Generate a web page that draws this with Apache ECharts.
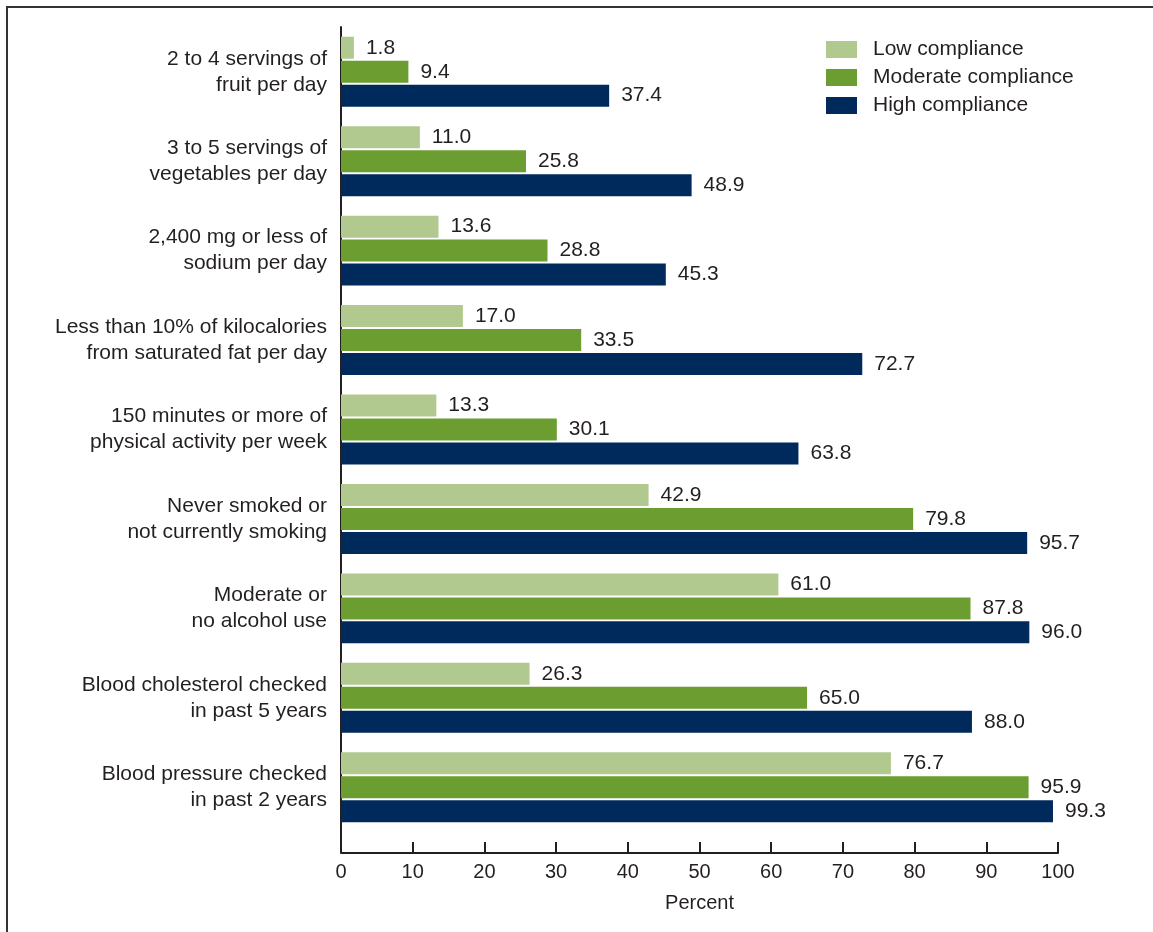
<!DOCTYPE html>
<html>
<head>
<meta charset="utf-8">
<script src="https://cdn.jsdelivr.net/npm/echarts@6/dist/echarts.min.js"></script>
<style>
  html, body { margin: 0; padding: 0; background: #fff; }
  .frame {
    position: absolute; left: 6px; top: 6px; width: 1147px; height: 926px;
    border-left: 2px solid #333; border-top: 2px solid #333;
  }
  #chart { position: absolute; left: 0; top: 0; width: 1153px; height: 932px; }
</style>
</head>
<body>
<div class="frame"></div>
<div id="chart"></div>
<script>
  // chart data
  const categories = [
    '2 to 4 servings of\nfruit per day',
    '3 to 5 servings of\nvegetables per day',
    '2,400 mg or less of\nsodium per day',
    'Less than 10% of kilocalories\nfrom saturated fat per day',
    '150 minutes or more of\nphysical activity per week',
    'Never smoked or\nnot currently smoking',
    'Moderate or\nno alcohol use',
    'Blood cholesterol checked\nin past 5 years',
    'Blood pressure checked\nin past 2 years'
  ];
  const lowCompliance = [1.8, 11.0, 13.6, 17.0, 13.3, 42.9, 61.0, 26.3, 76.7];
  const moderateCompliance = [9.4, 25.8, 28.8, 33.5, 30.1, 79.8, 87.8, 65.0, 95.9];
  const highCompliance = [37.4, 48.9, 45.3, 72.7, 63.8, 95.7, 96.0, 88.0, 99.3];
  const xTicks = [0, 100, 10]; // min, max, interval

  const textColor = '#231f20';
  const font = 'Liberation Sans, Arial, sans-serif';
  const grid = { left: 341, right: 95, top: 27, bottom: 100 };
  const axisOffset = 21;

  function barSeries(name, data, color) {
    return {
      name: name,
      type: 'bar',
      data: data,
      barWidth: 22,
      barGap: '9%',
      itemStyle: { color: color },
      label: {
        show: true,
        position: 'right',
        distance: 12,
        color: textColor,
        fontFamily: font,
        fontSize: 21,
        formatter: p => p.value.toFixed(1)
      }
    };
  }

  const myChart = echarts.init(document.getElementById('chart'));
  const option = {
    animation: false,
    textStyle: { fontFamily: font, color: textColor },
    grid: grid,
    legend: {
      orient: 'vertical',
      left: 821,
      top: 34,
      itemWidth: 31,
      itemHeight: 17,
      itemGap: 7,
      icon: 'rect',
      textStyle: { color: textColor, fontSize: 21, fontFamily: font, padding: [0, 0, 0, 11] },
      data: ['Low compliance', 'Moderate compliance', 'High compliance']
    },
    xAxis: {
      type: 'value',
      min: xTicks[0],
      max: xTicks[1],
      interval: xTicks[2],
      offset: axisOffset,
      name: 'Percent',
      nameLocation: 'middle',
      nameGap: 40,
      nameTextStyle: { color: textColor, fontSize: 20, fontFamily: font },
      axisLine: { show: true, lineStyle: { color: textColor, width: 2 } },
      axisTick: { show: true, inside: true, length: 11, lineStyle: { color: textColor, width: 2 } },
      axisLabel: { color: textColor, fontSize: 20, fontFamily: font, margin: 9 },
      splitLine: { show: false }
    },
    yAxis: {
      type: 'category',
      inverse: true,
      data: categories,
      axisLine: { show: true, lineStyle: { color: textColor, width: 2 } },
      axisTick: { show: false },
      axisLabel: {
        color: textColor, fontSize: 21, fontFamily: font,
        margin: 14, lineHeight: 26, align: 'right'
      }
    },
    graphic: [{
      // y-axis line continues down to the offset x-axis
      type: 'line',
      shape: { x1: grid.left, y1: 932 - grid.bottom, x2: grid.left, y2: 932 - grid.bottom + axisOffset },
      style: { stroke: textColor, lineWidth: 2 }
    }],
    series: [
      barSeries('Low compliance', lowCompliance, '#b1c98f'),
      barSeries('Moderate compliance', moderateCompliance, '#6b9d31'),
      barSeries('High compliance', highCompliance, '#002a5c')
    ]
  };
  myChart.setOption(option);
</script>
</body>
</html>
